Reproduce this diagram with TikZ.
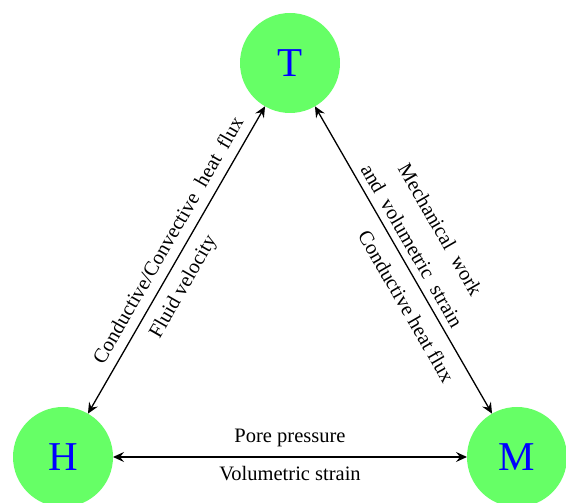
\documentclass[tikz,border=0pt]{standalone}
\usepackage{fontspec}
\setmainfont{Liberation Serif}
\usetikzlibrary{arrows.meta,positioning}

\begin{document}
\begin{tikzpicture}[
    x=1pt, y=1pt,
    font=\fontsize{20.5}{32.7}\selectfont,
    field/.style={circle, fill=green!60, text=blue, minimum size=100pt, inner sep=0pt, outer sep=0pt, font=\fontsize{41}{41}\selectfont},
    arrow/.style={{Stealth[length=11pt,width=10pt,inset=4pt]}-{Stealth[length=11pt,width=10pt,inset=4pt]}, line width=1.3pt},
    lbl/.style={sloped, inner sep=0pt, text depth=0pt, align=center},
    widelbl/.style={lbl, execute at begin node={\spaceskip=0.5em\relax}}
]
\useasboundingbox (0,0) rectangle (566,503);
\node[field] (T) at (290,440) {T};
\node[field] (H) at (63,46) {H};
\node[field] (M) at (517,46) {M};

\draw[arrow] (H) -- node[widelbl, pos=0.537, above=10pt] {Conductive/Convective heat flux}
                    node[lbl, pos=0.444, below=10pt] {Fluid velocity} (T);
\draw[arrow] (T) -- node[widelbl, pos=0.477, above=7pt] {Mechanical work\\and volumetric strain}
                    node[lbl, pos=0.618, below=12.6pt] {Conductive heat flux} (M);
\draw[arrow] (H) -- node[lbl, above=14pt] {Pore pressure}
                    node[lbl, below=9pt] {Volumetric strain} (M);
\end{tikzpicture}
\end{document}
